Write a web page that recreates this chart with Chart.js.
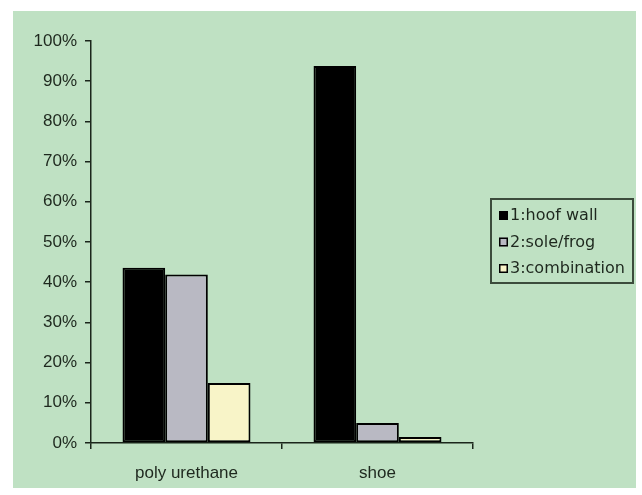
<!DOCTYPE html>
<html>
<head>
<meta charset="utf-8">
<script src="https://cdn.jsdelivr.net/npm/chart.js@4.4.1/dist/chart.umd.min.js"></script>
<style>
  html, body { margin: 0; padding: 0; background: #ffffff; }
  #wrap { width: 642px; height: 495px; position: relative; }
  canvas { display: block; }
</style>
</head>
<body>
<div id="wrap"><canvas id="c" width="642" height="495"></canvas></div>
<script>
// ---- data ----
const categories = ['poly urethane', 'shoe'];
const seriesNames = ['1:hoof wall', '2:sole/frog', '3:combination'];
const hoofWall = [43.6, 93.8];
const soleFrog = [41.9, 5.0];
const combination = [14.9, 1.5];
const yTickStep = 10;
const yMax = 100;

// ---- styles ----
const colors = ['#000000', '#b9b9c3', '#f8f4c8'];
const textColor = '#1e281e';
const axisColor = '#1b261b';

const greenBackground = {
  id: 'greenBackground',
  beforeDraw(chart) {
    const ctx = chart.ctx;
    ctx.save();
    ctx.fillStyle = '#ffffff';
    ctx.fillRect(0, 0, chart.width, chart.height);
    ctx.fillStyle = '#bfe1c3';
    ctx.fillRect(13, 11, 623, 477);
    ctx.restore();
  }
};

const boxedLegend = {
  id: 'boxedLegend',
  afterDraw(chart) {
    const ctx = chart.ctx;
    ctx.save();
    ctx.strokeStyle = '#3c4c3c';
    ctx.lineWidth = 2;
    ctx.strokeRect(491, 199, 142, 84);
    chart.data.datasets.forEach((ds, i) => {
      const y = 215.5 + i * 26.5;
      ctx.fillStyle = ds.backgroundColor;
      ctx.fillRect(499, y - 4.5, 9, 9);
      ctx.strokeStyle = '#000000';
      ctx.lineWidth = 1.5;
      ctx.strokeRect(499.75, y - 3.75, 7.5, 7.5);
      ctx.fillStyle = textColor;
      ctx.font = '16px "DejaVu Sans"';
      ctx.textBaseline = 'middle';
      ctx.textAlign = 'left';
      ctx.fillText(ds.label, 510, y + 0.5);
    });
    ctx.restore();
  }
};

const seriesValues = [hoofWall, soleFrog, combination];

new Chart(document.getElementById('c'), {
  type: 'bar',
  data: {
    labels: categories,
    datasets: seriesNames.map((name, i) => ({
      label: name,
      data: seriesValues[i],
      backgroundColor: colors[i],
      borderColor: '#000000',
      borderWidth: 2,
      borderSkipped: false,
      categoryPercentage: 0.67,
      barPercentage: 1.0
    }))
  },
  options: {
    responsive: false,
    animation: false,
    devicePixelRatio: 1,
    layout: { padding: { top: 41, right: 169, bottom: 0, left: 0 } },
    plugins: {
      legend: { display: false },
      tooltip: { enabled: false },
      title: { display: false }
    },
    scales: {
      x: {
        grid: {
          display: true,
          offset: true,
          drawOnChartArea: false,
          drawTicks: true,
          tickLength: 6,
          color: axisColor,
          lineWidth: 1.5
        },
        border: { display: true, color: axisColor, width: 1.5 },
        ticks: {
          color: textColor,
          padding: 14,
          font: { family: '"Liberation Sans", Arial, sans-serif', size: 17 }
        },
        afterFit(scale) { scale.height = 52; }
      },
      y: {
        min: 0,
        max: yMax,
        grid: {
          display: true,
          drawOnChartArea: false,
          drawTicks: true,
          tickLength: 6,
          color: axisColor,
          lineWidth: 1.5
        },
        border: { display: true, color: axisColor, width: 1.5 },
        ticks: {
          stepSize: yTickStep,
          color: textColor,
          padding: 8,
          font: { family: '"Liberation Sans", Arial, sans-serif', size: 17 },
          callback: (v) => v + '%'
        },
        afterFit(scale) { scale.width = 91; }
      }
    }
  },
  plugins: [greenBackground, boxedLegend]
});
</script>
</body>
</html>
